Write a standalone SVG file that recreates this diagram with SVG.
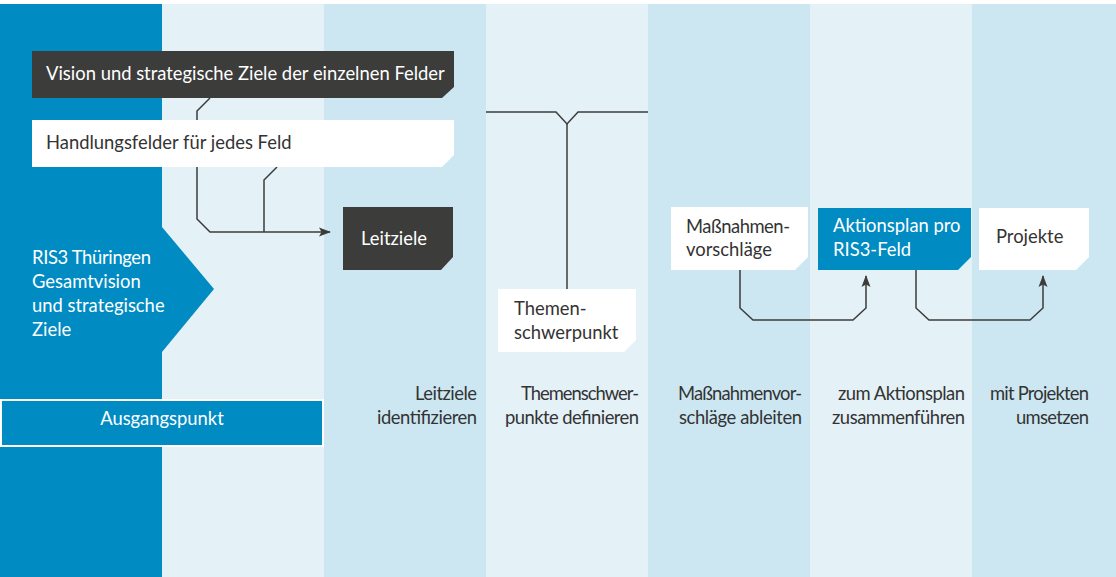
<svg xmlns="http://www.w3.org/2000/svg" width="1116" height="577" viewBox="0 0 1116 577">
<style>
.t{font-family:"Lato","Noto Sans",sans-serif;font-size:18.4px}
.w{fill:#ffffff}
.d{fill:#333333}
.dark{fill:#3c3c3b}
.white{fill:#ffffff}
.blue{fill:#008bc3}
.ln{fill:none;stroke:#3c3c3b;stroke-width:1.5}
</style>
<defs>
<marker id="ah" viewBox="0 0 12 10" refX="11" refY="5" markerWidth="12" markerHeight="10" markerUnits="userSpaceOnUse" orient="auto">
<path d="M0,0.5 L12,5 L0,9.5 L2.5,5 Z" fill="#3c3c3b"/>
</marker>
</defs>
<rect x="0" y="0" width="1116" height="577" fill="#ffffff"/>
<g id="columns">
<rect x="0" y="4" width="162" height="573" fill="#008bc3"/>
<rect x="162" y="4" width="162" height="573" fill="#e4f1f7"/>
<rect x="324" y="4" width="162" height="573" fill="#cce7f2"/>
<rect x="486" y="4" width="162" height="573" fill="#e4f1f7"/>
<rect x="648" y="4" width="162" height="573" fill="#cce7f2"/>
<rect x="810" y="4" width="162" height="573" fill="#e4f1f7"/>
<rect x="972" y="4" width="144" height="573" fill="#cce7f2"/>
</g>
<g id="ris3">
<polygon points="162,227 214,289 162,352" fill="#008bc3"/>
<text class="t w" x="32" y="264" textLength="119" lengthAdjust="spacing">RIS3 Thüringen</text>
<text class="t w" x="32" y="288">Gesamtvision</text>
<text class="t w" x="32" y="312">und strategische</text>
<text class="t w" x="32" y="336">Ziele</text>
</g>
<g id="connectors">
<polyline class="ln" points="210,98 197,111 197,219 210,232 330,232" marker-end="url(#ah)"/>
<polyline class="ln" points="277,167 264,180 264,232"/>
<polyline class="ln" points="486,112 556,112 567,124 578,112 648,112"/>
<line class="ln" x1="567" y1="124" x2="567" y2="289"/>
<polyline class="ln" points="740,270 740,308 753,320 853,320 866,308 866,276" marker-end="url(#ah)"/>
<polyline class="ln" points="916,270 916,308 929,320 1030,320 1043,308 1043,276" marker-end="url(#ah)"/>
</g>
<g id="vision">
<polygon class="dark" points="32,51 454,51 454,87 442,98 32,98"/>
<text class="t w" x="46" y="80">Vision und strategische Ziele der einzelnen Felder</text>
</g>
<g id="handlungsfelder">
<polygon class="white" points="32,120 454,120 454,155 442,167 32,167"/>
<text class="t d" x="46" y="149">Handlungsfelder für jedes Feld</text>
</g>
<g id="leitziele">
<polygon class="dark" points="343,207 453,207 453,257 441,270 343,270"/>
<text class="t w" x="361" y="245">Leitziele</text>
</g>
<g id="themen">
<polygon class="white" points="498,289 636,289 636,340 624,352 498,352"/>
<text class="t d" x="514" y="315">Themen-</text>
<text class="t d" x="514" y="339">schwerpunkt</text>
</g>
<g id="massnahmen">
<polygon class="white" points="671,207 808,207 808,257 795,270 671,270"/>
<text class="t d" x="686" y="233" textLength="104" lengthAdjust="spacing">Maßnahmen-</text>
<text class="t d" x="686" y="256">vorschläge</text>
</g>
<g id="aktionsplan">
<polygon class="blue" points="818,208 971,208 971,257 958,270 818,270"/>
<text class="t w" x="833" y="232">Aktionsplan pro</text>
<text class="t w" x="833" y="256">RIS3-Feld</text>
</g>
<g id="projekte">
<polygon class="white" points="979,208 1089,208 1089,257 1076,270 979,270"/>
<text class="t d" x="996" y="243">Projekte</text>
</g>
<g id="ausgangspunkt">
<rect x="1" y="400" width="322" height="46" fill="#008bc3" stroke="#ffffff" stroke-width="2"/>
<text class="t w" x="162" y="425" text-anchor="middle">Ausgangspunkt</text>
</g>
<g id="labels">
<text class="t d" x="415" y="400" textLength="62" lengthAdjust="spacing">Leitziele</text>
<text class="t d" x="377" y="424" textLength="100" lengthAdjust="spacing">identifizieren</text>
<text class="t d" x="521" y="400" textLength="118" lengthAdjust="spacing">Themenschwer-</text>
<text class="t d" x="505" y="424" textLength="134" lengthAdjust="spacing">punkte definieren</text>
<text class="t d" x="678" y="400" textLength="124" lengthAdjust="spacing">Maßnahmenvor-</text>
<text class="t d" x="679" y="424" textLength="123" lengthAdjust="spacing">schläge ableiten</text>
<text class="t d" x="838" y="400" textLength="127" lengthAdjust="spacing">zum Aktionsplan</text>
<text class="t d" x="832" y="424" textLength="133" lengthAdjust="spacing">zusammenführen</text>
<text class="t d" x="990" y="400" textLength="99" lengthAdjust="spacing">mit Projekten</text>
<text class="t d" x="1016" y="424" textLength="73" lengthAdjust="spacing">umsetzen</text>
</g>
</svg>
